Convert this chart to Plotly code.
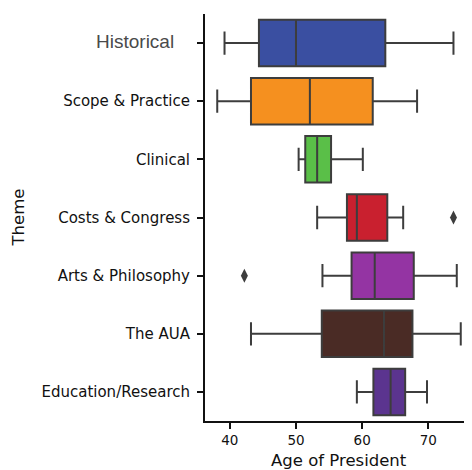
import plotly.graph_objects as go

categories = ["Historical", "Scope & Practice", "Clinical", "Costs & Congress",
              "Arts & Philosophy", "The AUA", "Education/Research"]
lower_whisker = [39.2, 38.1, 50.4, 53.2, 54.0, 43.2, 59.2]
q1_values     = [44.4, 43.2, 51.4, 57.7, 58.4, 53.9, 61.7]
median_values = [50.0, 52.1, 53.2, 59.2, 61.9, 63.3, 64.3]
q3_values     = [63.5, 61.6, 55.3, 63.8, 67.8, 67.6, 66.5]
upper_whisker = [73.8, 68.3, 60.1, 66.2, 74.3, 74.9, 69.8]
colors = ["#3a4fa1", "#f5901f", "#5abf48", "#c9202f", "#9434a3", "#4a2b25", "#5b348f"]

outlier_cats = ["Costs & Congress", "Arts & Philosophy"]
outlier_vals = [73.8, 42.2]

tick_values = [40, 50, 60, 70]

# page has an 8px body margin; compensate so the plot lands where the reference has it
W, H = 464, 462
L, R, T, B = 197, 0, 6, 48.5
plot_w = W - L - R
plot_h = H - T - B

fig = go.Figure()
for i, cat in enumerate(categories):
    fig.add_trace(go.Box(
        y=[cat], q1=[q1_values[i]], median=[median_values[i]], q3=[q3_values[i]],
        lowerfence=[lower_whisker[i]], upperfence=[upper_whisker[i]],
        orientation="h", fillcolor=colors[i],
        line=dict(color="#3d3d3d", width=2),
        width=0.8, whiskerwidth=0.5, boxpoints=False, showlegend=False,
        hoverinfo="skip",
    ))

fig.add_trace(go.Scatter(
    x=outlier_vals, y=outlier_cats, mode="markers",
    marker=dict(symbol="diamond-tall", size=10, color="#3d3d3d"),
    showlegend=False, hoverinfo="skip",
))

ticktext = ['<span style="font-family:Liberation Sans;font-size:19px;fill:#4a4a4a">Historical&nbsp;&nbsp;&nbsp;</span>'] + categories[1:]

fig.update_layout(
    width=W, height=H,
    margin=dict(l=L, r=R, t=T, b=B, pad=0),
    paper_bgcolor="white", plot_bgcolor="white",
    boxmode="overlay",
    font=dict(family="DejaVu Sans", color="#111111"),
    xaxis=dict(
        range=[36.25, 76.6], tickvals=tick_values, ticks="outside", ticklen=6,
        tickwidth=1.5, tickcolor="#111", showline=True, linecolor="#111",
        linewidth=2, showgrid=False, zeroline=False,
        tickfont=dict(size=13.5, family="DejaVu Sans", color="#111"),
    ),
    yaxis=dict(
        type="category", categoryorder="array", categoryarray=categories,
        tickvals=categories, ticktext=ticktext,
        range=[6.5, -0.5], ticks="outside", ticklen=6, tickwidth=1.5,
        tickcolor="#111", showline=True, linecolor="#111", linewidth=2,
        showgrid=False, zeroline=False, ticklabelstandoff=4,
        tickfont=dict(size=15, family="DejaVu Sans", color="#111"),
    ),
    annotations=[
        dict(text="Age of President", xref="paper", yref="paper",
             x=0.5, y=(plot_h + T - (461 - 8)) / plot_h,
             xanchor="center", yanchor="middle",
             showarrow=False, font=dict(size=16.5, family="DejaVu Sans", color="#111")),
        dict(text="Theme", xref="paper", yref="paper",
             x=(18 - 8 - L) / plot_w, y=0.5, xanchor="center", yanchor="middle",
             textangle=-90, showarrow=False,
             font=dict(size=16.5, family="DejaVu Sans", color="#111")),
    ],
)

fig.write_html("out.html")
